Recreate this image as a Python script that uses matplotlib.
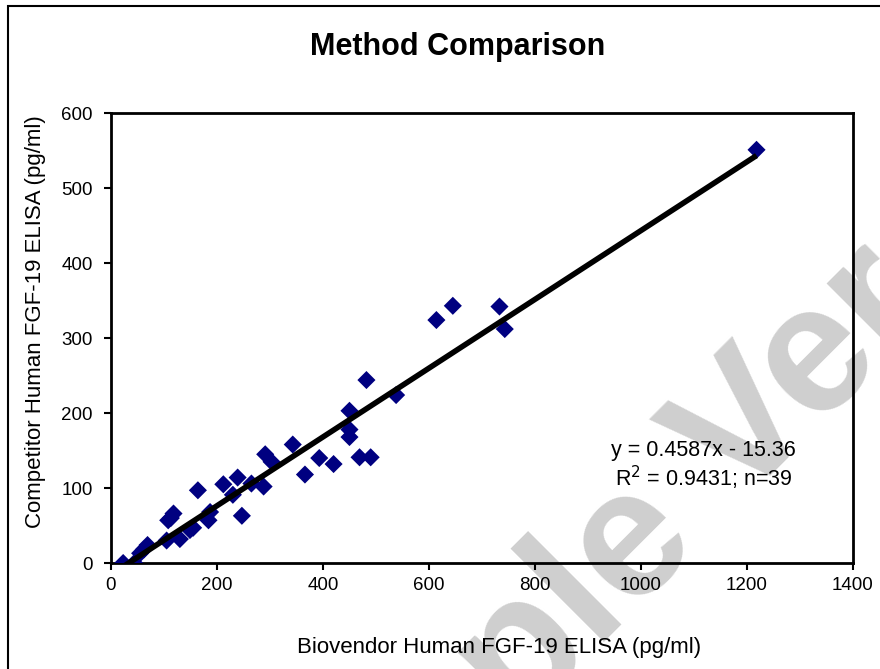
import matplotlib
matplotlib.use("Agg")
import matplotlib.pyplot as plt
from matplotlib.patches import Rectangle

plt.rcParams["font.family"] = ["Liberation Sans", "DejaVu Sans"]

# Messwerte (pg/ml)
biovendor = [23, 44, 55, 62, 69, 105, 130, 108, 113, 118, 149, 155, 164, 184, 187,
             212, 239, 230, 247, 265, 288, 291, 303, 343, 366, 393, 420, 450, 450,
             450, 469, 490, 482, 538, 614, 645, 733, 743, 1218]
competitor = [0, 0, 13, 18, 24, 30, 32, 57, 60, 66, 44, 47, 97, 57, 68,
              105, 114, 91, 63, 106, 102, 145, 135, 158, 118, 140, 132, 203, 178,
              168, 141, 141, 244, 224, 324, 343, 342, 312, 551]

# Trendlinie aus der Grafik
slope = 0.4587
intercept = -15.36
fit_eq = "y = 0.4587x - 15.36"
fit_r2 = "R$^2$ = 0.9431; n=39"

fig = plt.figure(figsize=(8.8, 6.69), dpi=100)
ax = fig.add_axes([0.1261, 0.1584, 0.8432, 0.6726])

# Rahmen um die ganze Grafik
fig.patches.append(Rectangle((8 / 880, -0.1), 1.2, 1 - 6 / 669 + 0.1,
                             transform=fig.transFigure, fill=False,
                             edgecolor="black", linewidth=1.5))

# Wasserzeichen (hinter allem)
fig.text(0.784, 0.268, "Sample Version", fontsize=130, fontweight="bold",
         color="#cfcfcf", rotation=45, ha="center", va="center", zorder=-1)

ax.patch.set_alpha(0)
ax.scatter(biovendor, competitor, marker="D", s=85, color="#000080",
           edgecolors="none", zorder=3)
x0, x1 = min(biovendor), max(biovendor)
ax.plot([x0, x1], [slope * x0 + intercept, slope * x1 + intercept],
        color="black", linewidth=4, zorder=4, solid_capstyle="butt")

ax.text(0.799, 0.251, fit_eq, transform=ax.transAxes, ha="center",
        va="center", fontsize=15.5, zorder=5)
ax.text(0.799, 0.189, fit_r2, transform=ax.transAxes, ha="center",
        va="center", fontsize=15.5, zorder=5)

ax.set_xlim(0, 1400)
ax.set_ylim(0, 600)
ax.set_xticks(range(0, 1401, 200))
ax.set_yticks(range(0, 601, 100))
ax.tick_params(direction="out", length=5, width=1.5, labelsize=13.5)
ax.tick_params(axis="y", pad=8)
ax.tick_params(axis="x", pad=5)
for s in ax.spines.values():
    s.set_linewidth(2)

ax.set_xlabel("Biovendor Human FGF-19 ELISA (pg/ml)", fontsize=16)
ax.xaxis.set_label_coords(0.523, -0.165)
ax.set_ylabel("Competitor Human FGF-19 ELISA (pg/ml)", fontsize=16)
ax.yaxis.set_label_coords(-0.088, 0.536)
fig.text(0.52, 0.93, "Method Comparison", fontsize=22, fontweight="bold",
         ha="center", va="center")

plt.savefig("out.png", dpi=100)
